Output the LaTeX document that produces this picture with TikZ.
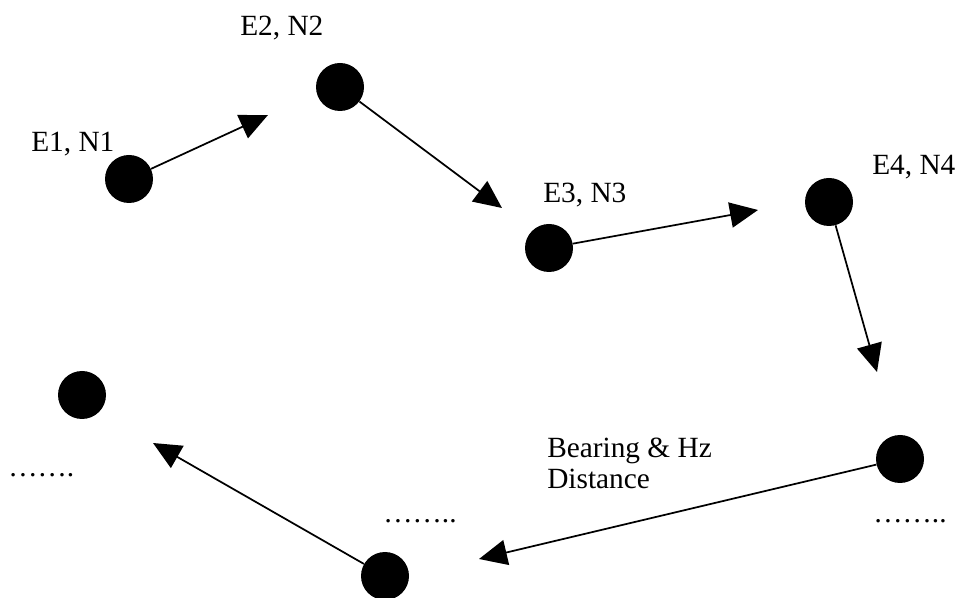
\documentclass[tikz,border=0pt]{standalone}
\usepackage{fontspec}
\setmainfont{Liberation Serif}
\usetikzlibrary{arrows.meta}
\tikzset{
    station-dot/.style = {circle, fill=black, minimum size=36pt, inner sep=0pt},
    station-label/.style = {anchor=base west, inner sep=0pt, font=\fontsize{22}{24}\selectfont},
    leg-arrow/.style = {line width=1.3pt, -{Triangle[length=21pt, width=19pt]}},
}

\begin{document}
\begin{tikzpicture}[x=0.75pt, y=-0.75pt]
\useasboundingbox (0,0) rectangle (961,598);
% stations
\node[station-dot] (st1) at (129,179) {};
\node[station-dot] (st2) at (340,87) {};
\node[station-dot] (st3) at (549,248) {};
\node[station-dot] (st4) at (829,202) {};
\node[station-dot] (st5) at (900,459) {};
\node[station-dot] (st6) at (385,576) {};
\node[station-dot] (st7) at (82,395) {};
% coordinates of the stations
\node[station-label] (lab1) at (31,152) {E1, N1};
\node[station-label] (lab2) at (240,36) {E2, N2};
\node[station-label] (lab3) at (543,203) {E3, N3};
\node[station-label] (lab4) at (872,175) {E4, N4};
\node[station-label, align=left] (note) at (547,489) {Bearing \& Hz\\Distance};
\node[station-label] (more1) at (8,477) {…….};
\node[station-label] (more2) at (383,523) {……..};
\node[station-label] (more3) at (873,523) {……..};
% legs, each ending short of the next station
\coordinate (tip1) at (268,115);
\coordinate (tip2) at (502,208);
\coordinate (tip3) at (758,210);
\coordinate (tip4) at (877,372);
\coordinate (tip5) at (479,559);
\coordinate (tip6) at (153,443);
\draw[leg-arrow] (st1) -- (tip1);
\draw[leg-arrow] (st2) -- (tip2);
\draw[leg-arrow] (st3) -- (tip3);
\draw[leg-arrow] (st4) -- (tip4);
\draw[leg-arrow] (st5) -- (tip5);
\draw[leg-arrow] (st6) -- (tip6);
\end{tikzpicture}
\end{document}
